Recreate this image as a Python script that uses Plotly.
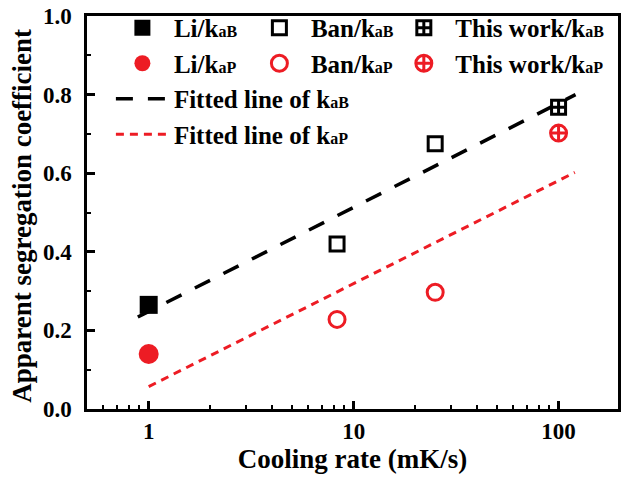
import plotly.graph_objects as go
import numpy as np

# ---- data ----
li_x = [1]
li_kaB = [0.265]
li_kaP = [0.14]
ban_x = [8.3, 25]
ban_kaB = [0.42, 0.675]
ban_kaP = [0.228, 0.297]
tw_x = [100]
tw_kaB = [0.768]
tw_kaP = [0.702]
fitB_x = [0.885, 121]
fitB_y = [0.234, 0.80]
fitP_x = [1.0, 120]
fitP_y = [0.057, 0.602]
x_tickvals = [1, 10, 100]
x_ticktext = ["1", "10", "100"]
y_tickvals = [0.0, 0.2, 0.4, 0.6, 0.8, 1.0]
y_ticktext = ["0.0", "0.2", "0.4", "0.6", "0.8", "1.0"]

RED = "#ED1C24"
FONT = "Liberation Serif"
SUB = "<span style='font-size:16px'>{}</span>"


def kname(prefix, s):
    return prefix + "k" + SUB.format(s)


fig = go.Figure()

# legend 1 column: Li + fitted lines
fig.add_trace(go.Scatter(x=li_x, y=li_kaB, mode="markers", name=kname("Li/", "aB"),
                         marker=dict(symbol="square", size=18, color="black"), legend="legend"))
fig.add_trace(go.Scatter(x=li_x, y=li_kaP, mode="markers", name=kname("Li/", "aP"),
                         marker=dict(symbol="circle", size=20, color=RED), legend="legend"))
fig.add_trace(go.Scatter(x=fitB_x, y=fitB_y, mode="lines", name=kname("Fitted line of ", "aB"),
                         line=dict(color="black", width=3.5, dash="17px,15px"), legend="legend"))
fig.add_trace(go.Scatter(x=fitP_x, y=fitP_y, mode="lines", name=kname("Fitted line of ", "aP"),
                         line=dict(color=RED, width=3, dash="8px,6px"), legend="legend"))
# Ban
fig.add_trace(go.Scatter(x=ban_x, y=ban_kaB, mode="markers", name=kname("Ban/", "aB"),
                         marker=dict(symbol="square-open", size=14, color="black", line=dict(width=3)),
                         legend="legend2"))
fig.add_trace(go.Scatter(x=ban_x, y=ban_kaP, mode="markers", name=kname("Ban/", "aP"),
                         marker=dict(symbol="circle-open", size=16, color=RED, line=dict(width=3)),
                         legend="legend2"))
# This work
fig.add_trace(go.Scatter(x=tw_x, y=tw_kaB, mode="markers", name=kname("This work/", "aB"),
                         marker=dict(symbol="square-cross-open", size=14, color="black", line=dict(width=3)),
                         legend="legend3"))
fig.add_trace(go.Scatter(x=tw_x, y=tw_kaP, mode="markers", name=kname("This work/", "aP"),
                         marker=dict(symbol="circle-cross-open", size=16, color=RED, line=dict(width=3)),
                         legend="legend3"))

legfont = dict(family=FONT, size=25, color="black", weight="bold")
legcommon = dict(font=legfont, bgcolor="rgba(0,0,0,0)", borderwidth=0,
                 xanchor="left", yanchor="top", tracegroupgap=0, itemwidth=53)

fig.update_layout(
    width=625, height=481,
    margin=dict(l=87, r=4, t=14, b=72),
    paper_bgcolor="white", plot_bgcolor="white",
    font=dict(family=FONT, size=24, color="black", weight="bold"),
    showlegend=True,
    legend=dict(x=0.045, y=1.028, **legcommon),
    legend2=dict(x=0.303, y=1.028, **legcommon),
    legend3=dict(x=0.575, y=1.028, **legcommon),
    xaxis=dict(
        type="log", range=[np.log10(0.5), 2.29],
        tickvals=x_tickvals, ticktext=x_ticktext,
        ticks="inside", ticklen=8, tickwidth=2.5, tickcolor="black",
        minor=dict(ticks="inside", ticklen=4, tickwidth=2, tickcolor="black", dtick="D1", showgrid=False),
        showline=True, linewidth=2.5, linecolor="black", mirror=True,
        showgrid=False, zeroline=False,
        tickfont=dict(family=FONT, size=23, color="black", weight="bold"),
        title=dict(text="<b>Cooling rate (mK/s)</b>", font=dict(family=FONT, size=27, color="black"), standoff=4),
    ),
    yaxis=dict(
        range=[0, 1.0],
        tickvals=y_tickvals, ticktext=y_ticktext,
        ticks="inside", ticklen=8, tickwidth=2.5, tickcolor="black",
        minor=dict(ticks="inside", ticklen=4, tickwidth=2, tickcolor="black", dtick=0.1, showgrid=False),
        showline=True, linewidth=2.5, linecolor="black", mirror=True,
        showgrid=False, zeroline=False,
        tickfont=dict(family=FONT, size=23, color="black", weight="bold"),
        ticklabelstandoff=8,
        title=dict(text="<b>Apparent segregation coefficient&nbsp;</b>", font=dict(family=FONT, size=27, color="black"), standoff=4),
    ),
)

fig.write_html("out.html")
